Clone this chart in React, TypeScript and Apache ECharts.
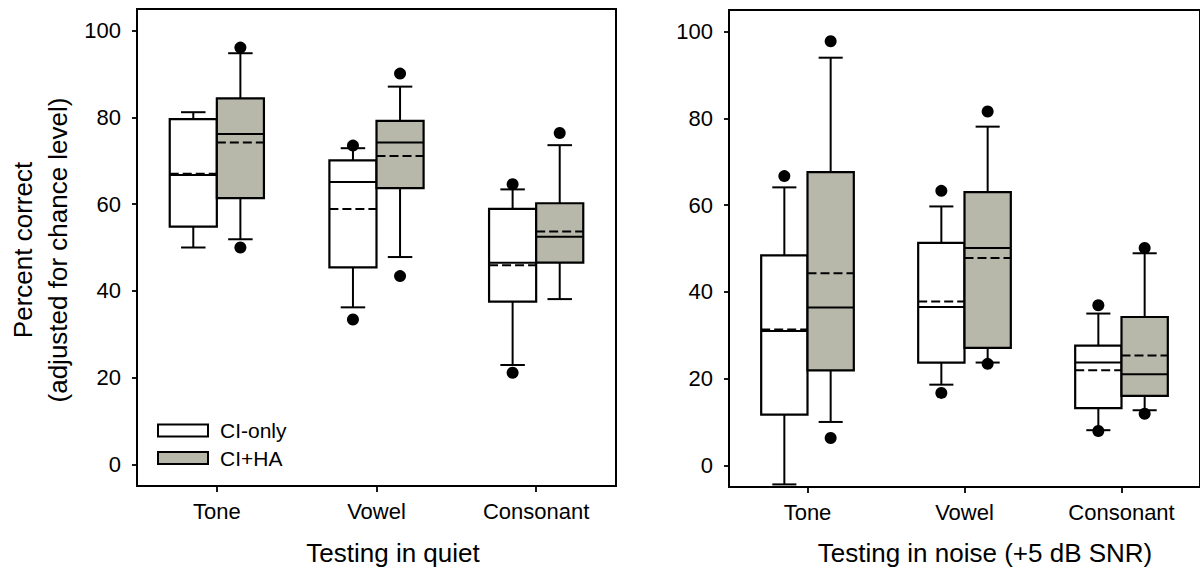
import React, { useEffect, useRef } from "react";
import * as echarts from "echarts";

const categories = ["Tone", "Vowel", "Consonant"];
const groupNames = ["CI-only", "CI+HA"];
const yTicks = [0, 20, 40, 60, 80, 100];
const panelTitles = ["Testing in quiet", "Testing in noise (+5 dB SNR)"];
const yTitle = ["Percent correct", "(adjusted for chance level)"];

// per category: [lower whisker, Q1, median, Q3, upper whisker, mean]
const quietCIonly = [
  [50.0, 54.8, 66.7, 79.6, 81.2, 67.0],
  [36.2, 45.4, 65.1, 70.1, 72.9, 58.9],
  [22.9, 37.5, 46.5, 58.9, 63.4, 45.9],
];
const quietCIHA = [
  [51.9, 61.4, 76.2, 84.4, 94.8, 74.2],
  [47.8, 63.7, 74.2, 79.2, 87.1, 71.1],
  [38.1, 46.5, 52.5, 60.2, 73.6, 53.7],
];
const noiseCIonly = [
  [-4.4, 11.7, 31.0, 48.4, 64.1, 31.3],
  [18.6, 23.7, 36.5, 51.3, 59.7, 37.8],
  [8.1, 13.2, 23.7, 27.6, 35.0, 21.9],
];
const noiseCIHA = [
  [10.0, 21.9, 36.4, 67.6, 94.0, 44.3],
  [23.7, 27.1, 50.1, 63.0, 78.1, 47.8],
  [12.7, 16.0, 21.0, 34.2, 48.9, 25.3],
];

// outliers: [category index, value]
const quietCIonlyOut = [[1, 73.5], [1, 33.4], [2, 64.6], [2, 21.1]];
const quietCIHAOut = [[0, 96.1], [0, 50.0], [1, 90.1], [1, 43.4], [2, 76.4]];
const noiseCIonlyOut = [[0, 66.7], [1, 63.3], [1, 16.7], [2, 36.9], [2, 7.9]];
const noiseCIHAOut = [[0, 97.8], [0, 6.3], [1, 81.6], [1, 23.4], [2, 50.1], [2, 11.9]];

const FONT = "'Liberation Sans', Arial, Helvetica, sans-serif";
const FILLS = ["#ffffff", "#b7b7aa"];
const BOX_FRAC = 0.295;

function boxRender(side: number, fill: string) {
  return (params: any, api: any) => {
    const c = api.value(0);
    const cx = api.coord([c, 0])[0];
    const band = api.size([1, 0])[0];
    const w = band * BOX_FRAC;
    const x0 = side < 0 ? cx - w : cx;
    const xm = x0 + w / 2;
    const cap = w * 0.26;
    const y = (i: number) => api.coord([c, api.value(i)])[1];
    const lo = y(1), q1 = y(2), med = y(3), q3 = y(4), hi = y(5), mean = y(6);
    const ls = { stroke: "#000", lineWidth: 2 };
    return {
      type: "group",
      children: [
        { type: "line", shape: { x1: xm, y1: q3, x2: xm, y2: hi }, style: ls },
        { type: "line", shape: { x1: xm - cap, y1: hi, x2: xm + cap, y2: hi }, style: ls },
        { type: "line", shape: { x1: xm, y1: q1, x2: xm, y2: lo }, style: ls },
        { type: "line", shape: { x1: xm - cap, y1: lo, x2: xm + cap, y2: lo }, style: ls },
        { type: "rect", shape: { x: x0, y: q3, width: w, height: q1 - q3 }, style: { fill, stroke: "#000", lineWidth: 2.2 } },
        { type: "line", shape: { x1: x0, y1: med, x2: x0 + w, y2: med }, style: ls },
        { type: "line", shape: { x1: x0, y1: mean, x2: x0 + w, y2: mean }, style: { stroke: "#000", lineWidth: 2, lineDash: [9, 4] } },
      ],
    };
  };
}

function outlierRender(side: number) {
  return (params: any, api: any) => {
    const c = api.value(0);
    const p = api.coord([c, api.value(1)]);
    const band = api.size([1, 0])[0];
    const w = band * BOX_FRAC;
    const xm = side < 0 ? p[0] - w / 2 : p[0] + w / 2;
    return { type: "circle", shape: { cx: xm, cy: p[1], r: 6 }, style: { fill: "#000" } };
  };
}

const boxData = (arr: number[][]) => arr.map((r, i) => [i, ...r]);

export default function App() {
  const ref = useRef<HTMLDivElement>(null);
  useEffect(() => {
    if (!ref.current) return;
    const chart = echarts.init(ref.current, undefined, { renderer: "svg" });
    const grids = [
      { left: 137, top: 9, width: 479, height: 477 },
      { left: 729, top: 10, width: 479, height: 477 },
    ];
    const panels = [
      [quietCIonly, quietCIHA, quietCIonlyOut, quietCIHAOut],
      [noiseCIonly, noiseCIHA, noiseCIonlyOut, noiseCIHAOut],
    ];
    const series: any[] = [];
    panels.forEach((p, gi) => {
      [0, 1].forEach((k) => {
        const side = k === 0 ? -1 : 1;
        series.push({
          type: "custom",
          name: groupNames[k],
          xAxisIndex: gi,
          yAxisIndex: gi,
          renderItem: boxRender(side, FILLS[k]),
          encode: { x: 0, y: [1, 2, 3, 4, 5, 6] },
          data: boxData(p[k] as number[][]),
          z: 2,
        });
        series.push({
          type: "custom",
          name: groupNames[k] + " outliers",
          xAxisIndex: gi,
          yAxisIndex: gi,
          renderItem: outlierRender(side),
          encode: { x: 0, y: 1 },
          data: p[k + 2],
          z: 3,
        });
      });
    });

    const graphic: any[] = [];
    graphic.push({ type: "text", x: 23, y: 250, rotation: Math.PI / 2, style: { text: yTitle[0], font: `26px ${FONT}`, fill: "#000", textAlign: "center", textVerticalAlign: "middle" } });
    graphic.push({ type: "text", x: 58, y: 250, rotation: Math.PI / 2, style: { text: yTitle[1], font: `26px ${FONT}`, fill: "#000", textAlign: "center", textVerticalAlign: "middle" } });
    graphic.push({ type: "text", x: 393, y: 553, style: { text: panelTitles[0], font: `26px ${FONT}`, fill: "#000", textAlign: "center", textVerticalAlign: "middle" } });
    graphic.push({ type: "text", x: 985, y: 553, style: { text: panelTitles[1], font: `26px ${FONT}`, fill: "#000", textAlign: "center", textVerticalAlign: "middle" } });
    groupNames.forEach((n, k) => {
      const yc = 430.5 + k * 27.5;
      graphic.push({ type: "rect", shape: { x: 158, y: yc - 6, width: 50, height: 12 }, style: { fill: FILLS[k], stroke: "#000", lineWidth: 2 } });
      graphic.push({ type: "text", x: 220, y: yc, style: { text: n, font: `21px ${FONT}`, fill: "#000", textAlign: "left", textVerticalAlign: "middle" } });
    });

    const xAxis = [0, 1].map((gi) => ({
      type: "category",
      gridIndex: gi,
      data: categories,
      boundaryGap: true,
      axisLine: { show: true, onZero: false, lineStyle: { color: "#000", width: 2 } },
      axisTick: { show: true, alignWithLabel: true, length: 6, lineStyle: { color: "#000", width: 1.8 } },
      axisLabel: { color: "#000", fontSize: 22, fontFamily: FONT, margin: 14 },
      splitLine: { show: false },
    }));
    const yAxis = [0, 1].map((gi) => ({
      type: "value",
      gridIndex: gi,
      min: -5,
      max: 105,
      axisLine: { show: true, lineStyle: { color: "#000", width: 2 } },
      axisTick: { show: true, length: 5, customValues: yTicks, lineStyle: { color: "#000", width: 1.8 } },
      axisLabel: { color: "#000", fontSize: 22, fontFamily: FONT, margin: 16, customValues: yTicks },
      splitLine: { show: false },
    }));

    chart.setOption({
      animation: false,
      backgroundColor: "#fff",
      textStyle: { fontFamily: FONT },
      grid: grids.map((g) => ({ ...g, show: true, borderColor: "#000", borderWidth: 2, backgroundColor: "transparent" })),
      xAxis,
      yAxis,
      series,
      graphic,
    });
    return () => chart.dispose();
  }, []);
  return <div ref={ref} style={{ position: "absolute", left: 0, top: 0, width: 1200, height: 571 }} />;
}
